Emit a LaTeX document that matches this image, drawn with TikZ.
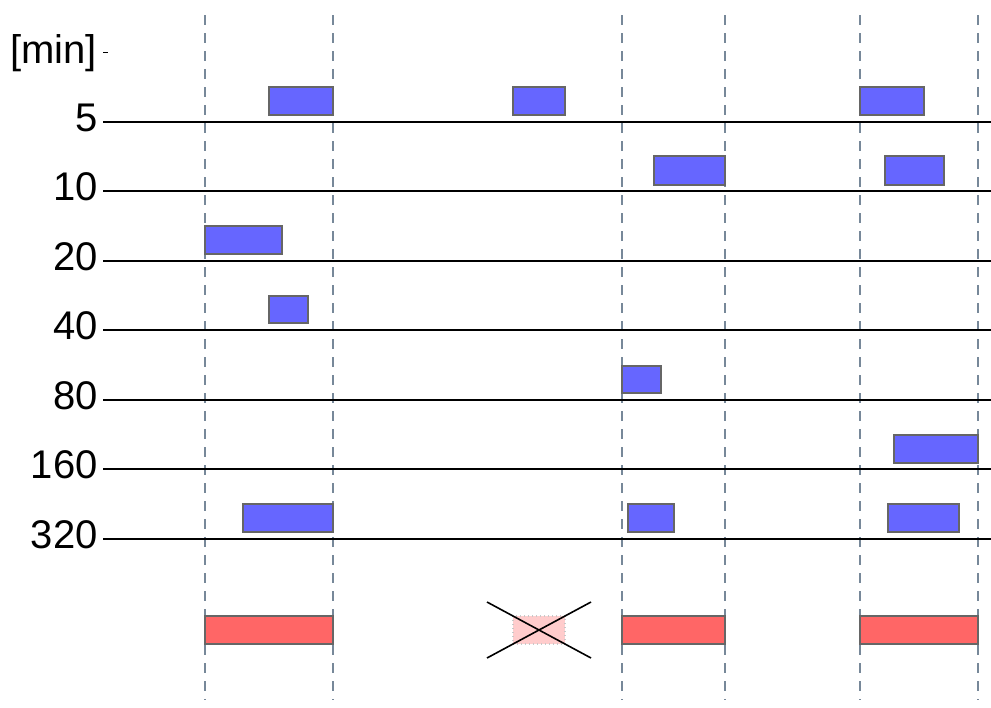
\documentclass[tikz,border=0pt]{standalone}
\usepackage{fontspec}
\setmainfont{Liberation Sans}
\begin{document}
\begin{tikzpicture}[x=0.75pt,y=-0.75pt,
  grid/.style={draw=black,line width=1.5pt},
  vdash/.style={draw={rgb,255:red,119;green,136;blue,153},line width=1.4pt,dash pattern=on 7.5pt off 6pt},
  bluebox/.style={fill={rgb,255:red,102;green,102;blue,255},draw={rgb,255:red,102;green,102;blue,102},line width=1.5pt},
  redbox/.style={fill={rgb,255:red,255;green,102;blue,102},draw={rgb,255:red,102;green,102;blue,102},line width=1pt},
  palebox/.style={fill={rgb,255:red,255;green,204;blue,204},draw={rgb,255:red,200;green,200;blue,200},line width=1pt,dotted},
  lbl/.style={anchor=base east,inner sep=0pt,font=\fontsize{30}{35}\selectfont}]
\useasboundingbox (0,0) rectangle (991,707);
% dashed verticals
\foreach \x/\n in {205/a,333/b,622/c,725/d,860/e,978/f}{
  \coordinate (t\n) at (\x,15);
  \coordinate (b\n) at (\x,700);
  \draw[vdash] (t\n) -- (b\n);
}
% axis label
\node[lbl] (unit) at (97,63) {[min]};
\coordinate (tk1) at (103,52);
\coordinate (tk2) at (108,52);
\draw[line width=0.6pt] (tk1) -- (tk2);
% horizontal lines with labels
\foreach \y/\t/\n in {122/5/r1,191/10/r2,261/20/r3,330/40/r4,400/80/r5,469/160/r6,539/320/r7}{
  \node[lbl] (l\n) at (98,\y+9) {\t};
  \coordinate (s\n) at (103,\y);
  \coordinate (e\n) at (991,\y);
  \draw[grid] (s\n) -- (e\n);
}
% blue boxes
\draw[bluebox] (269,87) rectangle (333,115);
\draw[bluebox] (513,87) rectangle (565,115);
\draw[bluebox] (860,87) rectangle (924,115);
\draw[bluebox] (654,156) rectangle (725,185);
\draw[bluebox] (885,156) rectangle (944,185);
\draw[bluebox] (205,226) rectangle (282,254);
\draw[bluebox] (269,296) rectangle (308,323);
\draw[bluebox] (622,366) rectangle (661,393);
\draw[bluebox] (894,435) rectangle (978,463);
\draw[bluebox] (243,504) rectangle (333,532);
\draw[bluebox] (628,504) rectangle (674,532);
\draw[bluebox] (888,504) rectangle (959,532);
% red boxes
\draw[redbox] (205,616) rectangle (333,644);
\draw[redbox] (622,616) rectangle (725,644);
\draw[redbox] (860,616) rectangle (978,644);
% crossed out box
\draw[palebox] (513,616) rectangle (565,644);
\coordinate (x1) at (487,602);
\coordinate (x2) at (591,658);
\coordinate (x3) at (487,658);
\coordinate (x4) at (591,602);
\draw[line width=1.2pt] (x1) -- (x2);
\draw[line width=1.2pt] (x3) -- (x4);
\end{tikzpicture}
\end{document}
